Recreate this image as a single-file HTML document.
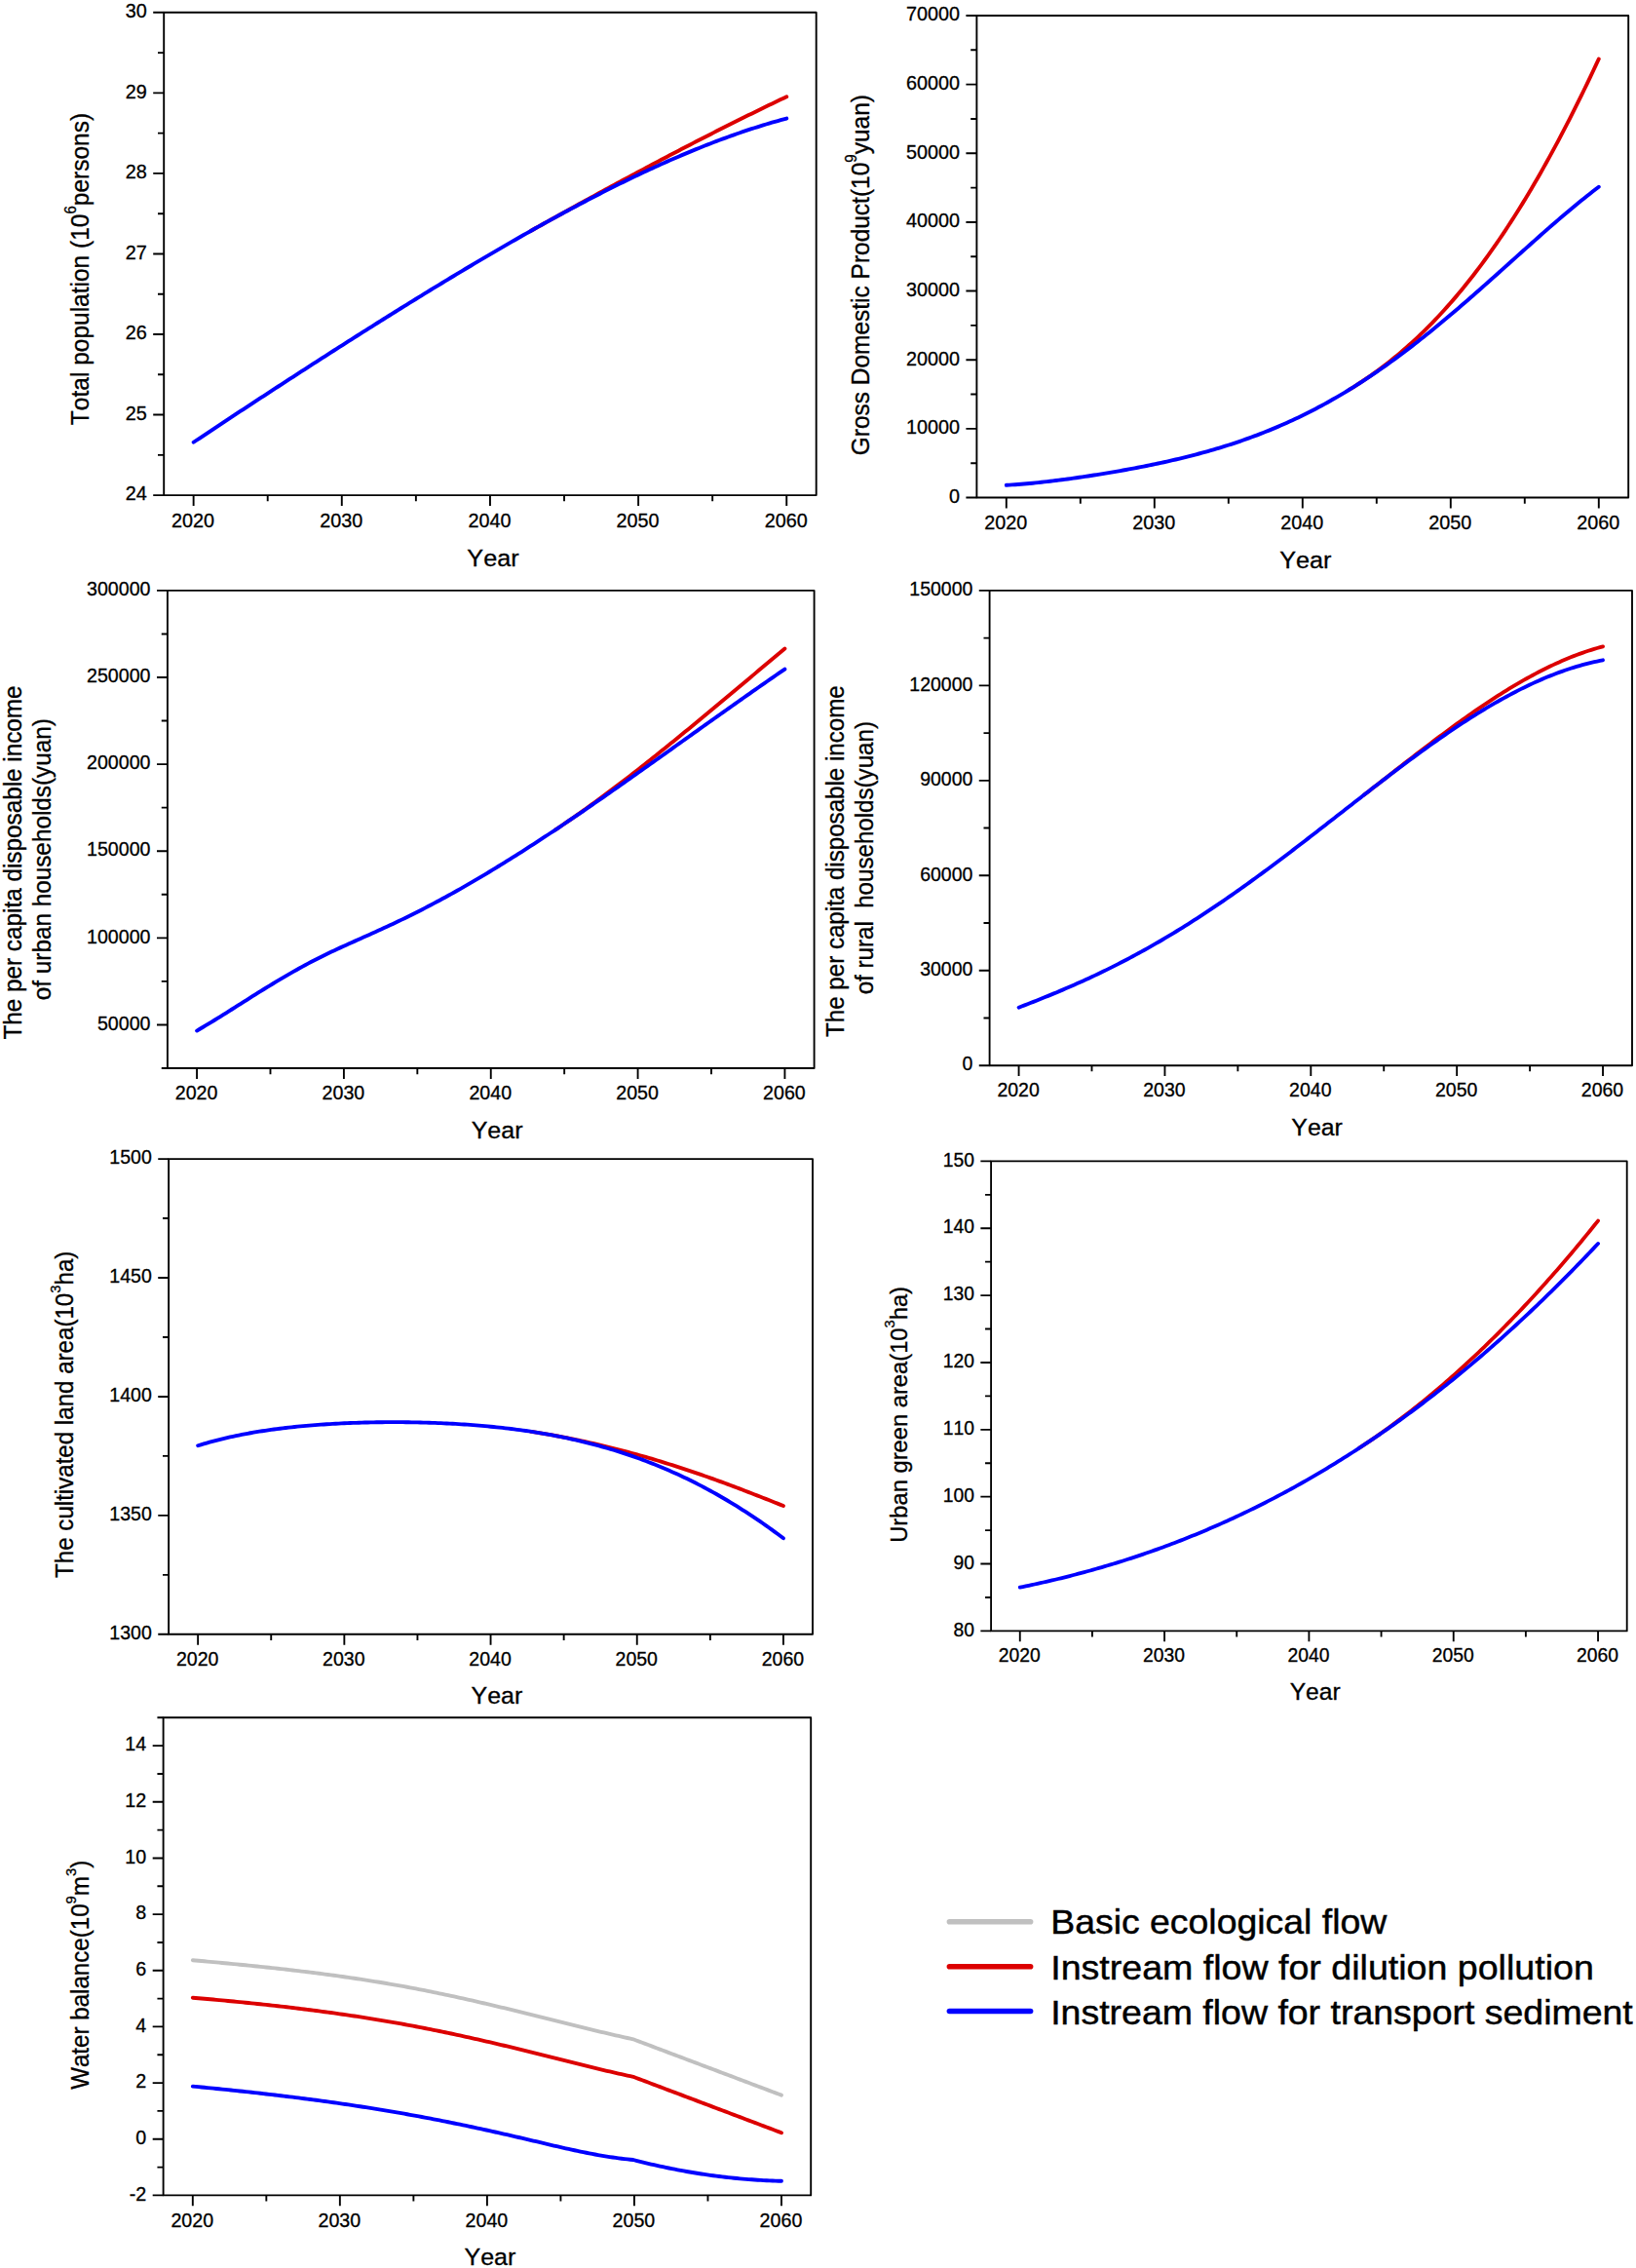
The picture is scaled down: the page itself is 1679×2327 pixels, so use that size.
<!DOCTYPE html>
<html lang="en">
<head>
<meta charset="utf-8">
<title>Scenario simulation results</title>
<style>
html,body{margin:0;padding:0;background:#fff;}
body{width:1679px;height:2327px;overflow:hidden;}
svg{display:block;}
svg text{font-family:"Liberation Sans", sans-serif;fill:#000;stroke:#000;font-kerning:none;white-space:pre;}
</style>
</head>
<body>
<svg width="1679" height="2327" viewBox="0 0 1679 2327">
<rect width="1679" height="2327" fill="#fff"/>
<path d="M545 236.79 L546.42 235.99 L549.42 234.31 L552.42 232.62 L555.42 230.94 L558.42 229.27 L561.42 227.59 L564.41 225.92 L567.41 224.25 L570.41 222.58 L573.41 220.92 L576.41 219.25 L579.4 217.59 L582.4 215.93 L585.4 214.27 L588.4 212.62 L591.4 210.97 L594.4 209.32 L597.39 207.67 L600.39 206.02 L603.39 204.38 L606.39 202.74 L609.39 201.1 L612.38 199.46 L615.38 197.83 L618.38 196.2 L621.38 194.57 L624.38 192.94 L627.38 191.32 L630.37 189.7 L633.37 188.08 L636.37 186.46 L639.37 184.84 L642.37 183.23 L645.36 181.62 L648.36 180.01 L651.36 178.41 L654.36 176.81 L657.36 175.21 L660.36 173.61 L663.35 172.01 L666.35 170.42 L669.35 168.83 L672.35 167.25 L675.35 165.66 L678.35 164.08 L681.34 162.5 L684.34 160.93 L687.34 159.35 L690.34 157.78 L693.34 156.22 L696.33 154.65 L699.33 153.09 L702.33 151.53 L705.33 149.98 L708.33 148.43 L711.33 146.88 L714.32 145.33 L717.32 143.79 L720.32 142.25 L723.32 140.72 L726.32 139.18 L729.31 137.65 L732.31 136.13 L735.31 134.61 L738.31 133.09 L741.31 131.57 L744.31 130.06 L747.3 128.55 L750.3 127.05 L753.3 125.55 L756.3 124.05 L759.3 122.56 L762.3 121.07 L765.29 119.59 L768.29 118.1 L771.29 116.63 L774.29 115.16 L777.29 113.69 L780.28 112.22 L783.28 110.76 L786.28 109.31 L789.28 107.86 L792.28 106.41 L795.28 104.97 L798.27 103.53 L801.27 102.1 L804.27 100.67 L807.27 99.25" fill="none" stroke="#dc0000" stroke-width="3.9" stroke-linecap="round" stroke-linejoin="round"/>
<path d="M198.63 453.75 L201.63 451.75 L204.63 449.76 L207.63 447.76 L210.62 445.77 L213.62 443.78 L216.62 441.79 L219.62 439.8 L222.62 437.81 L225.62 435.83 L228.61 433.85 L231.61 431.87 L234.61 429.89 L237.61 427.91 L240.61 425.94 L243.6 423.96 L246.6 421.99 L249.6 420.02 L252.6 418.05 L255.6 416.08 L258.6 414.12 L261.59 412.15 L264.59 410.19 L267.59 408.23 L270.59 406.27 L273.59 404.31 L276.59 402.36 L279.58 400.4 L282.58 398.45 L285.58 396.5 L288.58 394.55 L291.58 392.6 L294.57 390.65 L297.57 388.71 L300.57 386.77 L303.57 384.83 L306.57 382.89 L309.57 380.95 L312.56 379.02 L315.56 377.08 L318.56 375.15 L321.56 373.22 L324.56 371.29 L327.55 369.36 L330.55 367.44 L333.55 365.52 L336.55 363.6 L339.55 361.68 L342.55 359.76 L345.54 357.84 L348.54 355.93 L351.54 354.02 L354.54 352.11 L357.54 350.2 L360.54 348.3 L363.53 346.4 L366.53 344.5 L369.53 342.6 L372.53 340.7 L375.53 338.81 L378.52 336.91 L381.52 335.03 L384.52 333.14 L387.52 331.25 L390.52 329.37 L393.52 327.49 L396.51 325.61 L399.51 323.74 L402.51 321.87 L405.51 320 L408.51 318.13 L411.5 316.27 L414.5 314.4 L417.5 312.54 L420.5 310.69 L423.5 308.84 L426.5 306.98 L429.49 305.14 L432.49 303.29 L435.49 301.45 L438.49 299.61 L441.49 297.78 L444.48 295.95 L447.48 294.12 L450.48 292.29 L453.48 290.47 L456.48 288.65 L459.48 286.84 L462.47 285.03 L465.47 283.22 L468.47 281.41 L471.47 279.61 L474.47 277.82 L477.47 276.02 L480.46 274.23 L483.46 272.45 L486.46 270.67 L489.46 268.89 L492.46 267.12 L495.45 265.35 L498.45 263.58 L501.45 261.82 L504.45 260.07 L507.45 258.32 L510.45 256.57 L513.44 254.83 L516.44 253.09 L519.44 251.36 L522.44 249.63 L525.44 247.91 L528.43 246.19 L531.43 244.48 L534.43 242.77 L537.43 241.07 L540.43 239.37 L543.43 237.68 L546.42 235.99 L549.42 234.31 L552.42 232.63 L555.42 230.96 L558.42 229.3 L561.42 227.64 L564.41 225.99 L567.41 224.35 L570.41 222.71 L573.41 221.07 L576.41 219.45 L579.4 217.82 L582.4 216.21 L585.4 214.6 L588.4 213 L591.4 211.41 L594.4 209.82 L597.39 208.24 L600.39 206.67 L603.39 205.1 L606.39 203.54 L609.39 201.99 L612.38 200.45 L615.38 198.91 L618.38 197.38 L621.38 195.86 L624.38 194.35 L627.38 192.84 L630.37 191.34 L633.37 189.86 L636.37 188.37 L639.37 186.9 L642.37 185.44 L645.36 183.98 L648.36 182.54 L651.36 181.1 L654.36 179.67 L657.36 178.25 L660.36 176.84 L663.35 175.44 L666.35 174.05 L669.35 172.66 L672.35 171.29 L675.35 169.93 L678.35 168.58 L681.34 167.23 L684.34 165.9 L687.34 164.58 L690.34 163.26 L693.34 161.96 L696.33 160.67 L699.33 159.39 L702.33 158.12 L705.33 156.86 L708.33 155.61 L711.33 154.38 L714.32 153.15 L717.32 151.94 L720.32 150.74 L723.32 149.55 L726.32 148.37 L729.31 147.2 L732.31 146.05 L735.31 144.91 L738.31 143.78 L741.31 142.66 L744.31 141.55 L747.3 140.46 L750.3 139.38 L753.3 138.32 L756.3 137.27 L759.3 136.23 L762.3 135.2 L765.29 134.19 L768.29 133.19 L771.29 132.21 L774.29 131.24 L777.29 130.28 L780.28 129.34 L783.28 128.42 L786.28 127.5 L789.28 126.61 L792.28 125.73 L795.28 124.86 L798.27 124.01 L801.27 123.17 L804.27 122.35 L807.27 121.55" fill="none" stroke="#0000ff" stroke-width="3.9" stroke-linecap="round" stroke-linejoin="round"/>
<rect x="168.2" y="12.8" width="669.5" height="495.3" fill="none" stroke="#000" stroke-width="1.9" stroke-linejoin="round"/>
<path d="M198.63 508.1v11M350.79 508.1v11M502.95 508.1v11M655.11 508.1v11M807.27 508.1v11M274.71 508.1v6.2M426.87 508.1v6.2M579.03 508.1v6.2M731.19 508.1v6.2M168.2 508.1h-11M168.2 425.55h-11M168.2 343h-11M168.2 260.45h-11M168.2 177.9h-11M168.2 95.35h-11M168.2 12.8h-11M168.2 466.83h-6.2M168.2 384.28h-6.2M168.2 301.73h-6.2M168.2 219.18h-6.2M168.2 136.62h-6.2M168.2 54.08h-6.2" fill="none" stroke="#000" stroke-width="1.9"/>
<text x="198.13" y="540.61" font-size="19.81" text-anchor="middle" stroke-width="0.3">2020</text>
<text x="350.29" y="540.61" font-size="19.81" text-anchor="middle" stroke-width="0.3">2030</text>
<text x="502.45" y="540.61" font-size="19.81" text-anchor="middle" stroke-width="0.3">2040</text>
<text x="654.61" y="540.61" font-size="19.81" text-anchor="middle" stroke-width="0.3">2050</text>
<text x="806.77" y="540.61" font-size="19.81" text-anchor="middle" stroke-width="0.3">2060</text>
<text x="150.69" y="513.4" font-size="19.81" text-anchor="end" stroke-width="0.3">24</text>
<text x="150.69" y="430.85" font-size="19.81" text-anchor="end" stroke-width="0.3">25</text>
<text x="150.69" y="348.3" font-size="19.81" text-anchor="end" stroke-width="0.3">26</text>
<text x="150.69" y="265.75" font-size="19.81" text-anchor="end" stroke-width="0.3">27</text>
<text x="150.69" y="183.2" font-size="19.81" text-anchor="end" stroke-width="0.3">28</text>
<text x="150.69" y="100.65" font-size="19.81" text-anchor="end" stroke-width="0.3">29</text>
<text x="150.69" y="18.1" font-size="19.81" text-anchor="end" stroke-width="0.3">30</text>
<text transform="translate(505.95 580.63) scale(1.03 1)" font-size="24.51" text-anchor="middle" stroke-width="0.3">Year</text>
<text transform="translate(91 276) scale(1.04 1) rotate(-90)" font-size="24.51" text-anchor="middle" stroke-width="0.3" xml:space="preserve">Total population (10<tspan font-size="15.07" dy="-12.71">6</tspan><tspan dy="12.71">persons)</tspan></text>
<path d="M1385 399.65 L1386.22 398.9 L1389.21 397.03 L1392.21 395.13 L1395.2 393.19 L1398.2 391.22 L1401.19 389.2 L1404.19 387.15 L1407.18 385.07 L1410.18 382.94 L1413.17 380.77 L1416.17 378.56 L1419.16 376.31 L1422.16 374.02 L1425.15 371.68 L1428.15 369.3 L1431.14 366.88 L1434.14 364.41 L1437.13 361.89 L1440.13 359.33 L1443.13 356.72 L1446.12 354.07 L1449.12 351.36 L1452.11 348.61 L1455.11 345.81 L1458.1 342.95 L1461.1 340.05 L1464.09 337.09 L1467.09 334.08 L1470.08 331.02 L1473.08 327.91 L1476.07 324.75 L1479.07 321.53 L1482.06 318.25 L1485.06 314.92 L1488.05 311.54 L1491.05 308.1 L1494.04 304.61 L1497.04 301.06 L1500.03 297.45 L1503.03 293.78 L1506.02 290.06 L1509.02 286.28 L1512.01 282.45 L1515.01 278.55 L1518 274.6 L1521 270.58 L1523.99 266.51 L1526.99 262.38 L1529.98 258.19 L1532.98 253.94 L1535.97 249.63 L1538.97 245.26 L1541.96 240.83 L1544.96 236.34 L1547.95 231.78 L1550.95 227.17 L1553.94 222.5 L1556.94 217.76 L1559.93 212.97 L1562.93 208.11 L1565.92 203.2 L1568.92 198.22 L1571.91 193.18 L1574.91 188.08 L1577.9 182.91 L1580.9 177.69 L1583.89 172.4 L1586.89 167.06 L1589.88 161.65 L1592.88 156.18 L1595.87 150.65 L1598.87 145.06 L1601.86 139.41 L1604.86 133.7 L1607.85 127.93 L1610.85 122.09 L1613.84 116.2 L1616.84 110.24 L1619.83 104.23 L1622.83 98.15 L1625.82 92.02 L1628.82 85.82 L1631.81 79.57 L1634.81 73.26 L1637.8 66.88 L1640.8 60.45" fill="none" stroke="#dc0000" stroke-width="3.9" stroke-linecap="round" stroke-linejoin="round"/>
<path d="M1032.8 497.78 L1035.8 497.61 L1038.79 497.42 L1041.79 497.21 L1044.78 496.99 L1047.78 496.76 L1050.77 496.51 L1053.77 496.25 L1056.76 495.98 L1059.76 495.69 L1062.75 495.39 L1065.75 495.08 L1068.74 494.76 L1071.74 494.43 L1074.73 494.09 L1077.73 493.74 L1080.72 493.39 L1083.72 493.02 L1086.71 492.64 L1089.71 492.26 L1092.7 491.87 L1095.7 491.47 L1098.69 491.06 L1101.69 490.64 L1104.68 490.22 L1107.68 489.79 L1110.67 489.36 L1113.67 488.91 L1116.66 488.46 L1119.66 488.01 L1122.65 487.54 L1125.65 487.07 L1128.64 486.59 L1131.64 486.11 L1134.63 485.62 L1137.63 485.12 L1140.62 484.62 L1143.62 484.11 L1146.61 483.59 L1149.61 483.06 L1152.6 482.53 L1155.6 481.99 L1158.59 481.44 L1161.59 480.89 L1164.58 480.32 L1167.58 479.75 L1170.57 479.17 L1173.57 478.58 L1176.56 477.99 L1179.56 477.38 L1182.55 476.77 L1185.55 476.14 L1188.54 475.51 L1191.54 474.87 L1194.53 474.22 L1197.53 473.55 L1200.52 472.88 L1203.52 472.19 L1206.51 471.5 L1209.51 470.79 L1212.5 470.07 L1215.5 469.34 L1218.49 468.6 L1221.49 467.84 L1224.48 467.07 L1227.48 466.29 L1230.47 465.5 L1233.47 464.69 L1236.47 463.86 L1239.46 463.03 L1242.46 462.18 L1245.45 461.31 L1248.45 460.43 L1251.44 459.53 L1254.44 458.62 L1257.43 457.69 L1260.43 456.74 L1263.42 455.78 L1266.42 454.8 L1269.41 453.8 L1272.41 452.79 L1275.4 451.75 L1278.4 450.7 L1281.39 449.63 L1284.39 448.54 L1287.38 447.44 L1290.38 446.31 L1293.37 445.17 L1296.37 444 L1299.36 442.81 L1302.36 441.61 L1305.35 440.38 L1308.35 439.14 L1311.34 437.87 L1314.34 436.58 L1317.33 435.27 L1320.33 433.94 L1323.32 432.58 L1326.32 431.21 L1329.31 429.81 L1332.31 428.39 L1335.3 426.95 L1338.3 425.48 L1341.29 423.99 L1344.29 422.48 L1347.28 420.95 L1350.28 419.4 L1353.27 417.82 L1356.27 416.21 L1359.26 414.59 L1362.26 412.94 L1365.25 411.27 L1368.25 409.57 L1371.24 407.85 L1374.24 406.11 L1377.23 404.34 L1380.23 402.55 L1383.22 400.74 L1386.22 398.9 L1389.21 397.04 L1392.21 395.16 L1395.2 393.25 L1398.2 391.32 L1401.19 389.37 L1404.19 387.39 L1407.18 385.4 L1410.18 383.37 L1413.17 381.33 L1416.17 379.26 L1419.16 377.17 L1422.16 375.06 L1425.15 372.93 L1428.15 370.78 L1431.14 368.6 L1434.14 366.4 L1437.13 364.18 L1440.13 361.94 L1443.13 359.68 L1446.12 357.4 L1449.12 355.11 L1452.11 352.79 L1455.11 350.45 L1458.1 348.09 L1461.1 345.72 L1464.09 343.32 L1467.09 340.91 L1470.08 338.48 L1473.08 336.04 L1476.07 333.57 L1479.07 331.1 L1482.06 328.6 L1485.06 326.1 L1488.05 323.57 L1491.05 321.04 L1494.04 318.49 L1497.04 315.92 L1500.03 313.35 L1503.03 310.76 L1506.02 308.16 L1509.02 305.55 L1512.01 302.93 L1515.01 300.3 L1518 297.67 L1521 295.02 L1523.99 292.37 L1526.99 289.71 L1529.98 287.04 L1532.98 284.37 L1535.97 281.7 L1538.97 279.02 L1541.96 276.33 L1544.96 273.65 L1547.95 270.96 L1550.95 268.27 L1553.94 265.59 L1556.94 262.9 L1559.93 260.21 L1562.93 257.53 L1565.92 254.85 L1568.92 252.18 L1571.91 249.51 L1574.91 246.85 L1577.9 244.19 L1580.9 241.54 L1583.89 238.9 L1586.89 236.27 L1589.88 233.65 L1592.88 231.04 L1595.87 228.45 L1598.87 225.86 L1601.86 223.3 L1604.86 220.75 L1607.85 218.21 L1610.85 215.69 L1613.84 213.2 L1616.84 210.72 L1619.83 208.26 L1622.83 205.82 L1625.82 203.41 L1628.82 201.02 L1631.81 198.66 L1634.81 196.32 L1637.8 194.01 L1640.8 191.73" fill="none" stroke="#0000ff" stroke-width="3.9" stroke-linecap="round" stroke-linejoin="round"/>
<rect x="1002.4" y="16" width="668.8" height="494.5" fill="none" stroke="#000" stroke-width="1.9" stroke-linejoin="round"/>
<path d="M1032.8 510.5v10.99M1184.8 510.5v10.99M1336.8 510.5v10.99M1488.8 510.5v10.99M1640.8 510.5v10.99M1108.8 510.5v6.2M1260.8 510.5v6.2M1412.8 510.5v6.2M1564.8 510.5v6.2M1002.4 510.5h-10.99M1002.4 439.86h-10.99M1002.4 369.21h-10.99M1002.4 298.57h-10.99M1002.4 227.93h-10.99M1002.4 157.29h-10.99M1002.4 86.64h-10.99M1002.4 16h-10.99M1002.4 475.18h-6.2M1002.4 404.54h-6.2M1002.4 333.89h-6.2M1002.4 263.25h-6.2M1002.4 192.61h-6.2M1002.4 121.96h-6.2M1002.4 51.32h-6.2" fill="none" stroke="#000" stroke-width="1.9"/>
<text x="1032.3" y="542.98" font-size="19.79" text-anchor="middle" stroke-width="0.3">2020</text>
<text x="1184.3" y="542.98" font-size="19.79" text-anchor="middle" stroke-width="0.3">2030</text>
<text x="1336.3" y="542.98" font-size="19.79" text-anchor="middle" stroke-width="0.3">2040</text>
<text x="1488.3" y="542.98" font-size="19.79" text-anchor="middle" stroke-width="0.3">2050</text>
<text x="1640.3" y="542.98" font-size="19.79" text-anchor="middle" stroke-width="0.3">2060</text>
<text x="984.91" y="515.8" font-size="19.79" text-anchor="end" stroke-width="0.3">0</text>
<text x="984.91" y="445.15" font-size="19.79" text-anchor="end" stroke-width="0.3">10000</text>
<text x="984.91" y="374.51" font-size="19.79" text-anchor="end" stroke-width="0.3">20000</text>
<text x="984.91" y="303.87" font-size="19.79" text-anchor="end" stroke-width="0.3">30000</text>
<text x="984.91" y="233.23" font-size="19.79" text-anchor="end" stroke-width="0.3">40000</text>
<text x="984.91" y="162.58" font-size="19.79" text-anchor="end" stroke-width="0.3">50000</text>
<text x="984.91" y="91.94" font-size="19.79" text-anchor="end" stroke-width="0.3">60000</text>
<text x="984.91" y="21.3" font-size="19.79" text-anchor="end" stroke-width="0.3">70000</text>
<text transform="translate(1339.8 582.96) scale(1.03 1)" font-size="24.49" text-anchor="middle" stroke-width="0.3">Year</text>
<text transform="translate(892 282.2) scale(1.04 1) rotate(-90)" font-size="24.49" text-anchor="middle" stroke-width="0.3" xml:space="preserve">Gross Domestic Product(10<tspan font-size="15.06" dy="-12.69">9</tspan><tspan dy="12.69">yuan)</tspan></text>
<path d="M570 851.38 L571.29 850.53 L574.29 848.51 L577.29 846.49 L580.3 844.44 L583.3 842.39 L586.3 840.32 L589.3 838.23 L592.3 836.13 L595.31 834.01 L598.31 831.89 L601.31 829.74 L604.31 827.59 L607.31 825.42 L610.31 823.24 L613.32 821.05 L616.32 818.84 L619.32 816.62 L622.32 814.39 L625.32 812.15 L628.33 809.9 L631.33 807.64 L634.33 805.36 L637.33 803.08 L640.33 800.78 L643.33 798.48 L646.34 796.16 L649.34 793.83 L652.34 791.5 L655.34 789.16 L658.34 786.8 L661.34 784.44 L664.35 782.07 L667.35 779.69 L670.35 777.31 L673.35 774.92 L676.35 772.51 L679.36 770.11 L682.36 767.69 L685.36 765.27 L688.36 762.84 L691.36 760.4 L694.36 757.96 L697.37 755.52 L700.37 753.06 L703.37 750.6 L706.37 748.14 L709.37 745.67 L712.38 743.2 L715.38 740.72 L718.38 738.24 L721.38 735.76 L724.38 733.27 L727.38 730.78 L730.39 728.28 L733.39 725.78 L736.39 723.28 L739.39 720.78 L742.39 718.27 L745.4 715.76 L748.4 713.25 L751.4 710.74 L754.4 708.23 L757.4 705.72 L760.4 703.2 L763.41 700.69 L766.41 698.17 L769.41 695.66 L772.41 693.14 L775.41 690.62 L778.42 688.11 L781.42 685.6 L784.42 683.08 L787.42 680.57 L790.42 678.06 L793.42 675.56 L796.43 673.05 L799.43 670.55 L802.43 668.05 L805.43 665.55" fill="none" stroke="#dc0000" stroke-width="3.87" stroke-linecap="round" stroke-linejoin="round"/>
<path d="M202.07 1057.56 L205.07 1055.79 L208.07 1054.01 L211.07 1052.21 L214.08 1050.4 L217.08 1048.57 L220.08 1046.73 L223.08 1044.88 L226.08 1043.02 L229.08 1041.15 L232.09 1039.27 L235.09 1037.39 L238.09 1035.5 L241.09 1033.6 L244.09 1031.71 L247.1 1029.81 L250.1 1027.91 L253.1 1026.01 L256.1 1024.12 L259.1 1022.23 L262.1 1020.35 L265.11 1018.47 L268.11 1016.6 L271.11 1014.74 L274.11 1012.88 L277.11 1011.04 L280.12 1009.22 L283.12 1007.41 L286.12 1005.61 L289.12 1003.83 L292.12 1002.07 L295.12 1000.32 L298.13 998.6 L301.13 996.89 L304.13 995.2 L307.13 993.53 L310.13 991.88 L313.14 990.26 L316.14 988.65 L319.14 987.06 L322.14 985.5 L325.14 983.96 L328.14 982.44 L331.15 980.94 L334.15 979.47 L337.15 978.01 L340.15 976.58 L343.15 975.17 L346.16 973.77 L349.16 972.38 L352.16 971.01 L355.16 969.65 L358.16 968.3 L361.16 966.95 L364.17 965.61 L367.17 964.27 L370.17 962.94 L373.17 961.6 L376.17 960.26 L379.17 958.91 L382.18 957.56 L385.18 956.2 L388.18 954.84 L391.18 953.47 L394.18 952.09 L397.19 950.71 L400.19 949.31 L403.19 947.9 L406.19 946.49 L409.19 945.06 L412.19 943.62 L415.2 942.17 L418.2 940.71 L421.2 939.23 L424.2 937.74 L427.2 936.23 L430.21 934.71 L433.21 933.18 L436.21 931.63 L439.21 930.07 L442.21 928.5 L445.21 926.91 L448.22 925.31 L451.22 923.7 L454.22 922.07 L457.22 920.44 L460.22 918.79 L463.23 917.12 L466.23 915.45 L469.23 913.77 L472.23 912.07 L475.23 910.36 L478.23 908.64 L481.24 906.91 L484.24 905.17 L487.24 903.42 L490.24 901.65 L493.24 899.88 L496.25 898.09 L499.25 896.3 L502.25 894.49 L505.25 892.68 L508.25 890.85 L511.25 889.02 L514.26 887.17 L517.26 885.32 L520.26 883.46 L523.26 881.59 L526.26 879.71 L529.27 877.82 L532.27 875.92 L535.27 874.01 L538.27 872.1 L541.27 870.17 L544.27 868.24 L547.28 866.3 L550.28 864.36 L553.28 862.4 L556.28 860.44 L559.28 858.47 L562.29 856.5 L565.29 854.51 L568.29 852.52 L571.29 850.53 L574.29 848.52 L577.29 846.51 L580.3 844.5 L583.3 842.48 L586.3 840.45 L589.3 838.42 L592.3 836.38 L595.31 834.33 L598.31 832.28 L601.31 830.23 L604.31 828.17 L607.31 826.1 L610.31 824.03 L613.32 821.96 L616.32 819.88 L619.32 817.8 L622.32 815.71 L625.32 813.62 L628.33 811.53 L631.33 809.43 L634.33 807.33 L637.33 805.22 L640.33 803.11 L643.33 801 L646.34 798.89 L649.34 796.77 L652.34 794.65 L655.34 792.53 L658.34 790.41 L661.34 788.28 L664.35 786.15 L667.35 784.02 L670.35 781.89 L673.35 779.76 L676.35 777.62 L679.36 775.49 L682.36 773.35 L685.36 771.21 L688.36 769.07 L691.36 766.93 L694.36 764.79 L697.37 762.65 L700.37 760.51 L703.37 758.37 L706.37 756.23 L709.37 754.09 L712.38 751.95 L715.38 749.81 L718.38 747.67 L721.38 745.53 L724.38 743.39 L727.38 741.25 L730.39 739.12 L733.39 736.98 L736.39 734.85 L739.39 732.72 L742.39 730.59 L745.4 728.46 L748.4 726.34 L751.4 724.22 L754.4 722.1 L757.4 719.98 L760.4 717.86 L763.41 715.75 L766.41 713.64 L769.41 711.54 L772.41 709.43 L775.41 707.34 L778.42 705.24 L781.42 703.15 L784.42 701.06 L787.42 698.98 L790.42 696.9 L793.42 694.82 L796.43 692.75 L799.43 690.68 L802.43 688.62 L805.43 686.57" fill="none" stroke="#0000ff" stroke-width="3.87" stroke-linecap="round" stroke-linejoin="round"/>
<rect x="171.9" y="605.9" width="663.7" height="490.1" fill="none" stroke="#000" stroke-width="1.88" stroke-linejoin="round"/>
<path d="M202.07 1096v10.91M352.91 1096v10.91M503.75 1096v10.91M654.59 1096v10.91M805.43 1096v10.91M277.49 1096v6.15M428.33 1096v6.15M579.17 1096v6.15M730.01 1096v6.15M171.9 1051.45h-10.91M171.9 962.34h-10.91M171.9 873.23h-10.91M171.9 784.12h-10.91M171.9 695.01h-10.91M171.9 605.9h-10.91M171.9 1096h-6.15M171.9 1006.89h-6.15M171.9 917.78h-6.15M171.9 828.67h-6.15M171.9 739.56h-6.15M171.9 650.45h-6.15" fill="none" stroke="#000" stroke-width="1.88"/>
<text x="201.57" y="1128.23" font-size="19.64" text-anchor="middle" stroke-width="0.3">2020</text>
<text x="352.41" y="1128.23" font-size="19.64" text-anchor="middle" stroke-width="0.3">2030</text>
<text x="503.25" y="1128.23" font-size="19.64" text-anchor="middle" stroke-width="0.3">2040</text>
<text x="654.1" y="1128.23" font-size="19.64" text-anchor="middle" stroke-width="0.3">2050</text>
<text x="804.94" y="1128.23" font-size="19.64" text-anchor="middle" stroke-width="0.3">2060</text>
<text x="154.54" y="1056.7" font-size="19.64" text-anchor="end" stroke-width="0.3">50000</text>
<text x="154.54" y="967.59" font-size="19.64" text-anchor="end" stroke-width="0.3">100000</text>
<text x="154.54" y="878.48" font-size="19.64" text-anchor="end" stroke-width="0.3">150000</text>
<text x="154.54" y="789.37" font-size="19.64" text-anchor="end" stroke-width="0.3">200000</text>
<text x="154.54" y="700.27" font-size="19.64" text-anchor="end" stroke-width="0.3">250000</text>
<text x="154.54" y="611.16" font-size="19.64" text-anchor="end" stroke-width="0.3">300000</text>
<text transform="translate(510.1 1167.9) scale(1.03 1)" font-size="24.3" text-anchor="middle" stroke-width="0.3">Year</text>
<text transform="translate(21.6 885) scale(1.04 1) rotate(-90)" font-size="24.3" text-anchor="middle" stroke-width="0.3" xml:space="preserve">The per capita disposable income</text>
<text transform="translate(52.4 881.7) scale(1.04 1) rotate(-90)" font-size="24.3" text-anchor="middle" stroke-width="0.3" xml:space="preserve">of urban households(yuan)</text>
<path d="M1400 815.49 L1402.25 813.74 L1405.25 811.41 L1408.24 809.08 L1411.24 806.74 L1414.24 804.41 L1417.23 802.07 L1420.23 799.73 L1423.23 797.39 L1426.23 795.05 L1429.22 792.72 L1432.22 790.38 L1435.22 788.05 L1438.22 785.71 L1441.21 783.39 L1444.21 781.06 L1447.21 778.74 L1450.2 776.43 L1453.2 774.12 L1456.2 771.81 L1459.2 769.52 L1462.19 767.23 L1465.19 764.94 L1468.19 762.67 L1471.19 760.4 L1474.18 758.15 L1477.18 755.9 L1480.18 753.67 L1483.17 751.44 L1486.17 749.23 L1489.17 747.03 L1492.17 744.84 L1495.16 742.67 L1498.16 740.51 L1501.16 738.36 L1504.16 736.23 L1507.15 734.12 L1510.15 732.02 L1513.15 729.94 L1516.14 727.87 L1519.14 725.83 L1522.14 723.8 L1525.14 721.79 L1528.13 719.8 L1531.13 717.83 L1534.13 715.88 L1537.13 713.96 L1540.12 712.05 L1543.12 710.17 L1546.12 708.31 L1549.11 706.48 L1552.11 704.66 L1555.11 702.88 L1558.11 701.12 L1561.1 699.38 L1564.1 697.67 L1567.1 695.99 L1570.1 694.33 L1573.09 692.71 L1576.09 691.11 L1579.09 689.54 L1582.08 688 L1585.08 686.49 L1588.08 685.01 L1591.08 683.56 L1594.07 682.14 L1597.07 680.76 L1600.07 679.4 L1603.07 678.08 L1606.06 676.8 L1609.06 675.55 L1612.06 674.33 L1615.05 673.15 L1618.05 672 L1621.05 670.89 L1624.05 669.82 L1627.04 668.78 L1630.04 667.79 L1633.04 666.83 L1636.04 665.9 L1639.03 665.02 L1642.03 664.18 L1645.03 663.37" fill="none" stroke="#dc0000" stroke-width="3.84" stroke-linecap="round" stroke-linejoin="round"/>
<path d="M1045.57 1033.68 L1048.57 1032.53 L1051.57 1031.37 L1054.56 1030.21 L1057.56 1029.04 L1060.56 1027.86 L1063.56 1026.68 L1066.55 1025.49 L1069.55 1024.29 L1072.55 1023.08 L1075.55 1021.86 L1078.54 1020.63 L1081.54 1019.4 L1084.54 1018.15 L1087.53 1016.89 L1090.53 1015.62 L1093.53 1014.34 L1096.53 1013.05 L1099.52 1011.75 L1102.52 1010.43 L1105.52 1009.1 L1108.52 1007.76 L1111.51 1006.41 L1114.51 1005.04 L1117.51 1003.67 L1120.5 1002.27 L1123.5 1000.87 L1126.5 999.45 L1129.5 998.01 L1132.49 996.57 L1135.49 995.1 L1138.49 993.63 L1141.49 992.14 L1144.48 990.63 L1147.48 989.11 L1150.48 987.57 L1153.47 986.02 L1156.47 984.46 L1159.47 982.88 L1162.47 981.28 L1165.46 979.67 L1168.46 978.04 L1171.46 976.4 L1174.46 974.75 L1177.45 973.07 L1180.45 971.38 L1183.45 969.68 L1186.44 967.96 L1189.44 966.23 L1192.44 964.48 L1195.44 962.71 L1198.43 960.93 L1201.43 959.14 L1204.43 957.33 L1207.43 955.5 L1210.42 953.66 L1213.42 951.81 L1216.42 949.94 L1219.41 948.05 L1222.41 946.15 L1225.41 944.24 L1228.41 942.31 L1231.4 940.37 L1234.4 938.41 L1237.4 936.44 L1240.4 934.46 L1243.39 932.46 L1246.39 930.45 L1249.39 928.42 L1252.38 926.39 L1255.38 924.34 L1258.38 922.27 L1261.38 920.2 L1264.37 918.11 L1267.37 916.01 L1270.37 913.9 L1273.37 911.78 L1276.36 909.64 L1279.36 907.5 L1282.36 905.34 L1285.35 903.17 L1288.35 901 L1291.35 898.81 L1294.35 896.61 L1297.34 894.4 L1300.34 892.19 L1303.34 889.96 L1306.34 887.73 L1309.33 885.49 L1312.33 883.24 L1315.33 880.98 L1318.32 878.72 L1321.32 876.45 L1324.32 874.17 L1327.32 871.88 L1330.31 869.59 L1333.31 867.29 L1336.31 864.99 L1339.31 862.68 L1342.3 860.37 L1345.3 858.06 L1348.3 855.74 L1351.29 853.41 L1354.29 851.09 L1357.29 848.76 L1360.29 846.43 L1363.28 844.09 L1366.28 841.76 L1369.28 839.42 L1372.28 837.08 L1375.27 834.74 L1378.27 832.4 L1381.27 830.07 L1384.26 827.73 L1387.26 825.39 L1390.26 823.06 L1393.26 820.72 L1396.25 818.39 L1399.25 816.07 L1402.25 813.74 L1405.25 811.42 L1408.24 809.1 L1411.24 806.79 L1414.24 804.49 L1417.23 802.18 L1420.23 799.89 L1423.23 797.6 L1426.23 795.32 L1429.22 793.04 L1432.22 790.77 L1435.22 788.51 L1438.22 786.26 L1441.21 784.02 L1444.21 781.78 L1447.21 779.56 L1450.2 777.35 L1453.2 775.14 L1456.2 772.95 L1459.2 770.77 L1462.19 768.61 L1465.19 766.45 L1468.19 764.31 L1471.19 762.18 L1474.18 760.07 L1477.18 757.97 L1480.18 755.88 L1483.17 753.81 L1486.17 751.76 L1489.17 749.72 L1492.17 747.7 L1495.16 745.7 L1498.16 743.71 L1501.16 741.74 L1504.16 739.79 L1507.15 737.86 L1510.15 735.95 L1513.15 734.06 L1516.14 732.19 L1519.14 730.34 L1522.14 728.51 L1525.14 726.71 L1528.13 724.92 L1531.13 723.16 L1534.13 721.42 L1537.13 719.71 L1540.12 718.02 L1543.12 716.35 L1546.12 714.71 L1549.11 713.09 L1552.11 711.5 L1555.11 709.94 L1558.11 708.4 L1561.1 706.89 L1564.1 705.41 L1567.1 703.96 L1570.1 702.53 L1573.09 701.13 L1576.09 699.76 L1579.09 698.43 L1582.08 697.12 L1585.08 695.84 L1588.08 694.59 L1591.08 693.38 L1594.07 692.19 L1597.07 691.04 L1600.07 689.92 L1603.07 688.84 L1606.06 687.79 L1609.06 686.77 L1612.06 685.78 L1615.05 684.83 L1618.05 683.92 L1621.05 683.04 L1624.05 682.19 L1627.04 681.38 L1630.04 680.61 L1633.04 679.88 L1636.04 679.18 L1639.03 678.52 L1642.03 677.89 L1645.03 677.31" fill="none" stroke="#0000ff" stroke-width="3.84" stroke-linecap="round" stroke-linejoin="round"/>
<rect x="1015.6" y="605.9" width="659.4" height="487.3" fill="none" stroke="#000" stroke-width="1.87" stroke-linejoin="round"/>
<path d="M1045.57 1093.2v10.84M1195.44 1093.2v10.84M1345.3 1093.2v10.84M1495.16 1093.2v10.84M1645.03 1093.2v10.84M1120.5 1093.2v6.11M1270.37 1093.2v6.11M1420.23 1093.2v6.11M1570.1 1093.2v6.11M1015.6 1093.2h-10.84M1015.6 995.74h-10.84M1015.6 898.28h-10.84M1015.6 800.82h-10.84M1015.6 703.36h-10.84M1015.6 605.9h-10.84M1015.6 1044.47h-6.11M1015.6 947.01h-6.11M1015.6 849.55h-6.11M1015.6 752.09h-6.11M1015.6 654.63h-6.11" fill="none" stroke="#000" stroke-width="1.87"/>
<text x="1045.08" y="1125.22" font-size="19.51" text-anchor="middle" stroke-width="0.3">2020</text>
<text x="1194.94" y="1125.22" font-size="19.51" text-anchor="middle" stroke-width="0.3">2030</text>
<text x="1344.81" y="1125.22" font-size="19.51" text-anchor="middle" stroke-width="0.3">2040</text>
<text x="1494.67" y="1125.22" font-size="19.51" text-anchor="middle" stroke-width="0.3">2050</text>
<text x="1644.53" y="1125.22" font-size="19.51" text-anchor="middle" stroke-width="0.3">2060</text>
<text x="998.36" y="1098.42" font-size="19.51" text-anchor="end" stroke-width="0.3">0</text>
<text x="998.36" y="1000.96" font-size="19.51" text-anchor="end" stroke-width="0.3">30000</text>
<text x="998.36" y="903.5" font-size="19.51" text-anchor="end" stroke-width="0.3">60000</text>
<text x="998.36" y="806.04" font-size="19.51" text-anchor="end" stroke-width="0.3">90000</text>
<text x="998.36" y="708.58" font-size="19.51" text-anchor="end" stroke-width="0.3">120000</text>
<text x="998.36" y="611.12" font-size="19.51" text-anchor="end" stroke-width="0.3">150000</text>
<text transform="translate(1351.61 1164.64) scale(1.03 1)" font-size="24.14" text-anchor="middle" stroke-width="0.3">Year</text>
<text transform="translate(865.9 883.6) scale(1.04 1) rotate(-90)" font-size="24.14" text-anchor="middle" stroke-width="0.3" xml:space="preserve">The per capita disposable income</text>
<text transform="translate(896.1 880.2) scale(1.04 1) rotate(-90)" font-size="24.14" text-anchor="middle" stroke-width="0.3" xml:space="preserve">of rural  households(yuan)</text>
<path d="M545 1468.83 L545.61 1468.93 L548.61 1469.39 L551.62 1469.87 L554.62 1470.35 L557.62 1470.85 L560.63 1471.36 L563.63 1471.88 L566.64 1472.41 L569.64 1472.95 L572.64 1473.5 L575.65 1474.07 L578.65 1474.64 L581.66 1475.22 L584.66 1475.82 L587.66 1476.42 L590.67 1477.04 L593.67 1477.67 L596.68 1478.31 L599.68 1478.95 L602.68 1479.61 L605.69 1480.28 L608.69 1480.96 L611.7 1481.65 L614.7 1482.35 L617.71 1483.06 L620.71 1483.79 L623.71 1484.52 L626.72 1485.26 L629.72 1486.01 L632.73 1486.78 L635.73 1487.55 L638.73 1488.33 L641.74 1489.13 L644.74 1489.93 L647.75 1490.74 L650.75 1491.57 L653.75 1492.4 L656.76 1493.25 L659.76 1494.1 L662.77 1494.96 L665.77 1495.84 L668.78 1496.72 L671.78 1497.62 L674.78 1498.52 L677.79 1499.43 L680.79 1500.35 L683.8 1501.29 L686.8 1502.23 L689.8 1503.18 L692.81 1504.14 L695.81 1505.11 L698.82 1506.09 L701.82 1507.07 L704.82 1508.07 L707.83 1509.07 L710.83 1510.09 L713.84 1511.11 L716.84 1512.14 L719.84 1513.18 L722.85 1514.23 L725.85 1515.28 L728.86 1516.35 L731.86 1517.42 L734.87 1518.5 L737.87 1519.59 L740.87 1520.68 L743.88 1521.78 L746.88 1522.89 L749.89 1524.01 L752.89 1525.13 L755.89 1526.26 L758.9 1527.4 L761.9 1528.54 L764.91 1529.69 L767.91 1530.84 L770.91 1532 L773.92 1533.17 L776.92 1534.34 L779.93 1535.51 L782.93 1536.69 L785.93 1537.88 L788.94 1539.07 L791.94 1540.26 L794.95 1541.46 L797.95 1542.66 L800.96 1543.86 L803.96 1545.07" fill="none" stroke="#dc0000" stroke-width="3.85" stroke-linecap="round" stroke-linejoin="round"/>
<path d="M203.14 1483.24 L206.14 1482.32 L209.15 1481.41 L212.15 1480.54 L215.16 1479.69 L218.16 1478.87 L221.17 1478.07 L224.17 1477.3 L227.17 1476.55 L230.18 1475.83 L233.18 1475.12 L236.19 1474.44 L239.19 1473.78 L242.19 1473.14 L245.2 1472.52 L248.2 1471.92 L251.21 1471.34 L254.21 1470.78 L257.21 1470.24 L260.22 1469.71 L263.22 1469.2 L266.23 1468.71 L269.23 1468.24 L272.24 1467.78 L275.24 1467.34 L278.24 1466.91 L281.25 1466.5 L284.25 1466.1 L287.26 1465.72 L290.26 1465.35 L293.26 1464.99 L296.27 1464.65 L299.27 1464.32 L302.28 1464 L305.28 1463.69 L308.28 1463.4 L311.29 1463.12 L314.29 1462.85 L317.3 1462.59 L320.3 1462.34 L323.3 1462.11 L326.31 1461.88 L329.31 1461.66 L332.32 1461.46 L335.32 1461.26 L338.32 1461.07 L341.33 1460.9 L344.33 1460.73 L347.34 1460.57 L350.34 1460.42 L353.35 1460.28 L356.35 1460.15 L359.35 1460.03 L362.36 1459.91 L365.36 1459.81 L368.37 1459.71 L371.37 1459.62 L374.37 1459.54 L377.38 1459.46 L380.38 1459.4 L383.39 1459.34 L386.39 1459.29 L389.39 1459.25 L392.4 1459.22 L395.4 1459.19 L398.41 1459.17 L401.41 1459.16 L404.41 1459.16 L407.42 1459.16 L410.42 1459.18 L413.43 1459.2 L416.43 1459.22 L419.44 1459.26 L422.44 1459.3 L425.44 1459.36 L428.45 1459.41 L431.45 1459.48 L434.46 1459.56 L437.46 1459.64 L440.46 1459.73 L443.47 1459.83 L446.47 1459.94 L449.48 1460.06 L452.48 1460.18 L455.48 1460.32 L458.49 1460.46 L461.49 1460.61 L464.5 1460.77 L467.5 1460.94 L470.5 1461.11 L473.51 1461.3 L476.51 1461.5 L479.52 1461.7 L482.52 1461.92 L485.53 1462.14 L488.53 1462.38 L491.53 1462.62 L494.54 1462.88 L497.54 1463.14 L500.55 1463.42 L503.55 1463.71 L506.55 1464 L509.56 1464.31 L512.56 1464.63 L515.57 1464.96 L518.57 1465.3 L521.57 1465.66 L524.58 1466.02 L527.58 1466.4 L530.59 1466.79 L533.59 1467.19 L536.6 1467.6 L539.6 1468.03 L542.6 1468.47 L545.61 1468.93 L548.61 1469.39 L551.62 1469.87 L554.62 1470.37 L557.62 1470.87 L560.63 1471.4 L563.63 1471.93 L566.64 1472.48 L569.64 1473.05 L572.64 1473.63 L575.65 1474.23 L578.65 1474.84 L581.66 1475.46 L584.66 1476.11 L587.66 1476.77 L590.67 1477.44 L593.67 1478.13 L596.68 1478.84 L599.68 1479.56 L602.68 1480.31 L605.69 1481.06 L608.69 1481.84 L611.7 1482.64 L614.7 1483.45 L617.71 1484.28 L620.71 1485.13 L623.71 1485.99 L626.72 1486.88 L629.72 1487.78 L632.73 1488.71 L635.73 1489.65 L638.73 1490.61 L641.74 1491.6 L644.74 1492.6 L647.75 1493.62 L650.75 1494.66 L653.75 1495.73 L656.76 1496.81 L659.76 1497.91 L662.77 1499.04 L665.77 1500.19 L668.78 1501.35 L671.78 1502.54 L674.78 1503.76 L677.79 1504.99 L680.79 1506.25 L683.8 1507.52 L686.8 1508.82 L689.8 1510.15 L692.81 1511.49 L695.81 1512.86 L698.82 1514.25 L701.82 1515.67 L704.82 1517.1 L707.83 1518.57 L710.83 1520.05 L713.84 1521.56 L716.84 1523.09 L719.84 1524.65 L722.85 1526.23 L725.85 1527.83 L728.86 1529.46 L731.86 1531.12 L734.87 1532.79 L737.87 1534.5 L740.87 1536.22 L743.88 1537.97 L746.88 1539.75 L749.89 1541.55 L752.89 1543.38 L755.89 1545.23 L758.9 1547.1 L761.9 1549.01 L764.91 1550.93 L767.91 1552.88 L770.91 1554.86 L773.92 1556.86 L776.92 1558.89 L779.93 1560.94 L782.93 1563.02 L785.93 1565.12 L788.94 1567.25 L791.94 1569.4 L794.95 1571.58 L797.95 1573.78 L800.96 1576.01 L803.96 1578.26" fill="none" stroke="#0000ff" stroke-width="3.85" stroke-linecap="round" stroke-linejoin="round"/>
<rect x="173.1" y="1189.1" width="660.9" height="487.7" fill="none" stroke="#000" stroke-width="1.88" stroke-linejoin="round"/>
<path d="M203.14 1676.8v10.86M353.35 1676.8v10.86M503.55 1676.8v10.86M653.75 1676.8v10.86M803.96 1676.8v10.86M278.24 1676.8v6.12M428.45 1676.8v6.12M578.65 1676.8v6.12M728.86 1676.8v6.12M173.1 1676.8h-10.86M173.1 1554.88h-10.86M173.1 1432.95h-10.86M173.1 1311.02h-10.86M173.1 1189.1h-10.86M173.1 1615.84h-6.12M173.1 1493.91h-6.12M173.1 1371.99h-6.12M173.1 1250.06h-6.12" fill="none" stroke="#000" stroke-width="1.88"/>
<text x="202.65" y="1708.9" font-size="19.55" text-anchor="middle" stroke-width="0.3">2020</text>
<text x="352.85" y="1708.9" font-size="19.55" text-anchor="middle" stroke-width="0.3">2030</text>
<text x="503.06" y="1708.9" font-size="19.55" text-anchor="middle" stroke-width="0.3">2040</text>
<text x="653.26" y="1708.9" font-size="19.55" text-anchor="middle" stroke-width="0.3">2050</text>
<text x="803.47" y="1708.9" font-size="19.55" text-anchor="middle" stroke-width="0.3">2060</text>
<text x="155.82" y="1682.03" font-size="19.55" text-anchor="end" stroke-width="0.3">1300</text>
<text x="155.82" y="1560.11" font-size="19.55" text-anchor="end" stroke-width="0.3">1350</text>
<text x="155.82" y="1438.18" font-size="19.55" text-anchor="end" stroke-width="0.3">1400</text>
<text x="155.82" y="1316.26" font-size="19.55" text-anchor="end" stroke-width="0.3">1450</text>
<text x="155.82" y="1194.33" font-size="19.55" text-anchor="end" stroke-width="0.3">1500</text>
<text transform="translate(509.87 1748.4) scale(1.03 1)" font-size="24.2" text-anchor="middle" stroke-width="0.3">Year</text>
<text transform="translate(75.4 1451.3) scale(1.04 1) rotate(-90)" font-size="24.12" text-anchor="middle" stroke-width="0.3" xml:space="preserve">The cultivated land area(10<tspan font-size="14.83" dy="-12.54">3</tspan><tspan dy="12.54">ha)</tspan></text>
<path d="M1395 1485.69 L1397.33 1484.16 L1400.33 1482.17 L1403.33 1480.16 L1406.32 1478.13 L1409.32 1476.08 L1412.32 1474.01 L1415.31 1471.91 L1418.31 1469.8 L1421.3 1467.66 L1424.3 1465.5 L1427.3 1463.32 L1430.29 1461.11 L1433.29 1458.89 L1436.29 1456.64 L1439.28 1454.38 L1442.28 1452.09 L1445.28 1449.78 L1448.27 1447.44 L1451.27 1445.09 L1454.26 1442.71 L1457.26 1440.31 L1460.26 1437.89 L1463.25 1435.45 L1466.25 1432.99 L1469.25 1430.5 L1472.24 1427.99 L1475.24 1425.47 L1478.23 1422.91 L1481.23 1420.34 L1484.23 1417.75 L1487.22 1415.13 L1490.22 1412.49 L1493.22 1409.83 L1496.21 1407.15 L1499.21 1404.44 L1502.21 1401.72 L1505.2 1398.97 L1508.2 1396.2 L1511.19 1393.41 L1514.19 1390.6 L1517.19 1387.76 L1520.18 1384.9 L1523.18 1382.02 L1526.18 1379.12 L1529.17 1376.2 L1532.17 1373.25 L1535.16 1370.28 L1538.16 1367.3 L1541.16 1364.28 L1544.15 1361.25 L1547.15 1358.2 L1550.15 1355.12 L1553.14 1352.02 L1556.14 1348.9 L1559.14 1345.75 L1562.13 1342.59 L1565.13 1339.4 L1568.12 1336.19 L1571.12 1332.96 L1574.12 1329.71 L1577.11 1326.43 L1580.11 1323.14 L1583.11 1319.82 L1586.1 1316.48 L1589.1 1313.11 L1592.1 1309.73 L1595.09 1306.32 L1598.09 1302.89 L1601.08 1299.44 L1604.08 1295.97 L1607.08 1292.47 L1610.07 1288.95 L1613.07 1285.42 L1616.07 1281.86 L1619.06 1278.27 L1622.06 1274.67 L1625.05 1271.04 L1628.05 1267.39 L1631.05 1263.72 L1634.04 1260.03 L1637.04 1256.31 L1640.04 1252.58" fill="none" stroke="#dc0000" stroke-width="3.8" stroke-linecap="round" stroke-linejoin="round"/>
<path d="M1046.76 1628.66 L1049.76 1628.05 L1052.76 1627.43 L1055.75 1626.8 L1058.75 1626.16 L1061.75 1625.51 L1064.74 1624.86 L1067.74 1624.19 L1070.73 1623.52 L1073.73 1622.84 L1076.73 1622.15 L1079.72 1621.44 L1082.72 1620.73 L1085.72 1620.01 L1088.71 1619.29 L1091.71 1618.55 L1094.7 1617.8 L1097.7 1617.04 L1100.7 1616.27 L1103.69 1615.5 L1106.69 1614.71 L1109.69 1613.91 L1112.68 1613.11 L1115.68 1612.29 L1118.68 1611.47 L1121.67 1610.63 L1124.67 1609.78 L1127.66 1608.93 L1130.66 1608.06 L1133.66 1607.18 L1136.65 1606.3 L1139.65 1605.4 L1142.65 1604.49 L1145.64 1603.57 L1148.64 1602.65 L1151.64 1601.71 L1154.63 1600.76 L1157.63 1599.8 L1160.62 1598.82 L1163.62 1597.84 L1166.62 1596.85 L1169.61 1595.85 L1172.61 1594.83 L1175.61 1593.81 L1178.6 1592.77 L1181.6 1591.72 L1184.59 1590.66 L1187.59 1589.59 L1190.59 1588.51 L1193.58 1587.42 L1196.58 1586.31 L1199.58 1585.2 L1202.57 1584.07 L1205.57 1582.93 L1208.57 1581.78 L1211.56 1580.62 L1214.56 1579.45 L1217.55 1578.26 L1220.55 1577.07 L1223.55 1575.86 L1226.54 1574.64 L1229.54 1573.41 L1232.54 1572.16 L1235.53 1570.91 L1238.53 1569.64 L1241.52 1568.36 L1244.52 1567.07 L1247.52 1565.77 L1250.51 1564.45 L1253.51 1563.12 L1256.51 1561.78 L1259.5 1560.43 L1262.5 1559.06 L1265.5 1557.68 L1268.49 1556.29 L1271.49 1554.89 L1274.48 1553.48 L1277.48 1552.05 L1280.48 1550.61 L1283.47 1549.15 L1286.47 1547.69 L1289.47 1546.21 L1292.46 1544.72 L1295.46 1543.21 L1298.46 1541.7 L1301.45 1540.17 L1304.45 1538.62 L1307.44 1537.07 L1310.44 1535.5 L1313.44 1533.92 L1316.43 1532.32 L1319.43 1530.71 L1322.43 1529.09 L1325.42 1527.46 L1328.42 1525.81 L1331.41 1524.15 L1334.41 1522.47 L1337.41 1520.78 L1340.4 1519.08 L1343.4 1517.37 L1346.4 1515.64 L1349.39 1513.9 L1352.39 1512.14 L1355.39 1510.37 L1358.38 1508.59 L1361.38 1506.79 L1364.37 1504.98 L1367.37 1503.16 L1370.37 1501.32 L1373.36 1499.47 L1376.36 1497.61 L1379.36 1495.73 L1382.35 1493.83 L1385.35 1491.93 L1388.34 1490.01 L1391.34 1488.07 L1394.34 1486.12 L1397.33 1484.16 L1400.33 1482.18 L1403.33 1480.19 L1406.32 1478.18 L1409.32 1476.16 L1412.32 1474.13 L1415.31 1472.08 L1418.31 1470.02 L1421.3 1467.94 L1424.3 1465.85 L1427.3 1463.75 L1430.29 1461.63 L1433.29 1459.49 L1436.29 1457.34 L1439.28 1455.18 L1442.28 1453 L1445.28 1450.81 L1448.27 1448.6 L1451.27 1446.38 L1454.26 1444.14 L1457.26 1441.89 L1460.26 1439.63 L1463.25 1437.35 L1466.25 1435.05 L1469.25 1432.74 L1472.24 1430.42 L1475.24 1428.08 L1478.23 1425.72 L1481.23 1423.35 L1484.23 1420.97 L1487.22 1418.57 L1490.22 1416.16 L1493.22 1413.73 L1496.21 1411.29 L1499.21 1408.83 L1502.21 1406.35 L1505.2 1403.86 L1508.2 1401.36 L1511.19 1398.84 L1514.19 1396.31 L1517.19 1393.76 L1520.18 1391.19 L1523.18 1388.61 L1526.18 1386.02 L1529.17 1383.41 L1532.17 1380.78 L1535.16 1378.14 L1538.16 1375.49 L1541.16 1372.81 L1544.15 1370.13 L1547.15 1367.43 L1550.15 1364.71 L1553.14 1361.98 L1556.14 1359.23 L1559.14 1356.46 L1562.13 1353.68 L1565.13 1350.89 L1568.12 1348.08 L1571.12 1345.25 L1574.12 1342.41 L1577.11 1339.56 L1580.11 1336.69 L1583.11 1333.8 L1586.1 1330.89 L1589.1 1327.98 L1592.1 1325.04 L1595.09 1322.09 L1598.09 1319.13 L1601.08 1316.14 L1604.08 1313.15 L1607.08 1310.14 L1610.07 1307.11 L1613.07 1304.06 L1616.07 1301 L1619.06 1297.93 L1622.06 1294.84 L1625.05 1291.73 L1628.05 1288.61 L1631.05 1285.47 L1634.04 1282.32 L1637.04 1279.15 L1640.04 1275.96" fill="none" stroke="#0000ff" stroke-width="3.8" stroke-linecap="round" stroke-linejoin="round"/>
<rect x="1017.1" y="1191.4" width="652.6" height="482" fill="none" stroke="#000" stroke-width="1.85" stroke-linejoin="round"/>
<path d="M1046.76 1673.4v10.73M1195.08 1673.4v10.73M1343.4 1673.4v10.73M1491.72 1673.4v10.73M1640.04 1673.4v10.73M1120.92 1673.4v6.05M1269.24 1673.4v6.05M1417.56 1673.4v6.05M1565.88 1673.4v6.05M1017.1 1673.4h-10.73M1017.1 1604.54h-10.73M1017.1 1535.69h-10.73M1017.1 1466.83h-10.73M1017.1 1397.97h-10.73M1017.1 1329.11h-10.73M1017.1 1260.26h-10.73M1017.1 1191.4h-10.73M1017.1 1638.97h-6.05M1017.1 1570.11h-6.05M1017.1 1501.26h-6.05M1017.1 1432.4h-6.05M1017.1 1363.54h-6.05M1017.1 1294.69h-6.05M1017.1 1225.83h-6.05" fill="none" stroke="#000" stroke-width="1.85"/>
<text x="1046.28" y="1705.09" font-size="19.31" text-anchor="middle" stroke-width="0.3">2020</text>
<text x="1194.59" y="1705.09" font-size="19.31" text-anchor="middle" stroke-width="0.3">2030</text>
<text x="1342.91" y="1705.09" font-size="19.31" text-anchor="middle" stroke-width="0.3">2040</text>
<text x="1491.23" y="1705.09" font-size="19.31" text-anchor="middle" stroke-width="0.3">2050</text>
<text x="1639.55" y="1705.09" font-size="19.31" text-anchor="middle" stroke-width="0.3">2060</text>
<text x="1000.03" y="1678.57" font-size="19.31" text-anchor="end" stroke-width="0.3">80</text>
<text x="1000.03" y="1609.71" font-size="19.31" text-anchor="end" stroke-width="0.3">90</text>
<text x="1000.03" y="1540.85" font-size="19.31" text-anchor="end" stroke-width="0.3">100</text>
<text x="1000.03" y="1472" font-size="19.31" text-anchor="end" stroke-width="0.3">110</text>
<text x="1000.03" y="1403.14" font-size="19.31" text-anchor="end" stroke-width="0.3">120</text>
<text x="1000.03" y="1334.28" font-size="19.31" text-anchor="end" stroke-width="0.3">130</text>
<text x="1000.03" y="1265.43" font-size="19.31" text-anchor="end" stroke-width="0.3">140</text>
<text x="1000.03" y="1196.57" font-size="19.31" text-anchor="end" stroke-width="0.3">150</text>
<text transform="translate(1349.64 1744.1) scale(1.03 1)" font-size="23.89" text-anchor="middle" stroke-width="0.3">Year</text>
<text transform="translate(931.3 1451.4) scale(1.04 1) rotate(-90)" font-size="23.75" text-anchor="middle" stroke-width="0.3" xml:space="preserve">Urban green area(10<tspan font-size="14.61" dy="-12.38">3</tspan><tspan dy="12.38">ha)</tspan></text>
<path d="M197.81 2011.21 L200.82 2011.48 L203.84 2011.75 L206.85 2012.02 L209.86 2012.29 L212.88 2012.57 L215.89 2012.84 L218.91 2013.12 L221.92 2013.4 L224.93 2013.68 L227.95 2013.96 L230.96 2014.25 L233.98 2014.53 L236.99 2014.82 L240 2015.11 L243.02 2015.41 L246.03 2015.7 L249.05 2016 L252.06 2016.3 L255.07 2016.6 L258.09 2016.9 L261.1 2017.21 L264.12 2017.52 L267.13 2017.83 L270.14 2018.15 L273.16 2018.47 L276.17 2018.79 L279.19 2019.11 L282.2 2019.44 L285.21 2019.77 L288.23 2020.11 L291.24 2020.44 L294.26 2020.78 L297.27 2021.13 L300.28 2021.48 L303.3 2021.83 L306.31 2022.19 L309.32 2022.55 L312.34 2022.91 L315.35 2023.28 L318.37 2023.65 L321.38 2024.03 L324.39 2024.41 L327.41 2024.79 L330.42 2025.18 L333.44 2025.58 L336.45 2025.97 L339.46 2026.38 L342.48 2026.79 L345.49 2027.2 L348.51 2027.62 L351.52 2028.04 L354.53 2028.47 L357.55 2028.9 L360.56 2029.34 L363.58 2029.78 L366.59 2030.23 L369.6 2030.68 L372.62 2031.14 L375.63 2031.61 L378.65 2032.08 L381.66 2032.56 L384.67 2033.04 L387.69 2033.53 L390.7 2034.03 L393.72 2034.53 L396.73 2035.03 L399.74 2035.55 L402.76 2036.07 L405.77 2036.59 L408.78 2037.13 L411.8 2037.67 L414.81 2038.21 L417.83 2038.76 L420.84 2039.32 L423.85 2039.89 L426.87 2040.46 L429.88 2041.04 L432.9 2041.63 L435.91 2042.22 L438.92 2042.82 L441.94 2043.43 L444.95 2044.04 L447.97 2044.65 L450.98 2045.28 L453.99 2045.91 L457.01 2046.54 L460.02 2047.18 L463.04 2047.83 L466.05 2048.48 L469.06 2049.13 L472.08 2049.79 L475.09 2050.46 L478.11 2051.13 L481.12 2051.8 L484.13 2052.48 L487.15 2053.17 L490.16 2053.85 L493.18 2054.55 L496.19 2055.24 L499.2 2055.95 L502.22 2056.65 L505.23 2057.36 L508.24 2058.07 L511.26 2058.79 L514.27 2059.51 L517.29 2060.23 L520.3 2060.96 L523.31 2061.68 L526.33 2062.42 L529.34 2063.15 L532.36 2063.89 L535.37 2064.63 L538.38 2065.37 L541.4 2066.12 L544.41 2066.87 L547.43 2067.62 L550.44 2068.37 L553.45 2069.12 L556.47 2069.87 L559.48 2070.63 L562.5 2071.39 L565.51 2072.14 L568.52 2072.9 L571.54 2073.65 L574.55 2074.41 L577.57 2075.16 L580.58 2075.92 L583.59 2076.67 L586.61 2077.42 L589.62 2078.17 L592.64 2078.92 L595.65 2079.66 L598.66 2080.4 L601.68 2081.14 L604.69 2081.87 L607.7 2082.61 L610.72 2083.33 L613.73 2084.06 L616.75 2084.77 L619.76 2085.49 L622.77 2086.2 L625.79 2086.9 L628.8 2087.6 L631.82 2088.29 L634.83 2088.98 L637.84 2089.65 L640.86 2090.33 L643.87 2090.99 L646.89 2091.65 L649.9 2092.3 L652.94 2093.45 L655.98 2094.59 L659.03 2095.74 L662.07 2096.89 L665.11 2098.04 L668.15 2099.18 L671.19 2100.33 L674.23 2101.48 L677.28 2102.63 L680.32 2103.77 L683.36 2104.92 L686.4 2106.07 L689.44 2107.21 L692.49 2108.36 L695.53 2109.51 L698.57 2110.66 L701.61 2111.8 L704.65 2112.95 L707.69 2114.1 L710.74 2115.25 L713.78 2116.39 L716.82 2117.54 L719.86 2118.69 L722.9 2119.83 L725.95 2120.98 L728.99 2122.13 L732.03 2123.28 L735.07 2124.42 L738.11 2125.57 L741.15 2126.72 L744.2 2127.87 L747.24 2129.01 L750.28 2130.16 L753.32 2131.31 L756.36 2132.45 L759.41 2133.6 L762.45 2134.75 L765.49 2135.9 L768.53 2137.04 L771.57 2138.19 L774.61 2139.34 L777.66 2140.48 L780.7 2141.63 L783.74 2142.78 L786.78 2143.93 L789.82 2145.07 L792.87 2146.22 L795.91 2147.37 L798.95 2148.52 L801.99 2149.66" fill="none" stroke="#c0c0c0" stroke-width="3.87" stroke-linecap="round" stroke-linejoin="round"/>
<path d="M197.81 2049.7 L200.82 2049.96 L203.84 2050.22 L206.85 2050.48 L209.86 2050.74 L212.88 2051.01 L215.89 2051.28 L218.91 2051.55 L221.92 2051.83 L224.93 2052.1 L227.95 2052.38 L230.96 2052.66 L233.98 2052.95 L236.99 2053.24 L240 2053.53 L243.02 2053.82 L246.03 2054.12 L249.05 2054.42 L252.06 2054.72 L255.07 2055.02 L258.09 2055.33 L261.1 2055.64 L264.12 2055.96 L267.13 2056.27 L270.14 2056.6 L273.16 2056.92 L276.17 2057.25 L279.19 2057.58 L282.2 2057.92 L285.21 2058.25 L288.23 2058.6 L291.24 2058.94 L294.26 2059.29 L297.27 2059.65 L300.28 2060 L303.3 2060.37 L306.31 2060.73 L309.32 2061.1 L312.34 2061.47 L315.35 2061.85 L318.37 2062.23 L321.38 2062.62 L324.39 2063.01 L327.41 2063.41 L330.42 2063.81 L333.44 2064.21 L336.45 2064.62 L339.46 2065.03 L342.48 2065.45 L345.49 2065.87 L348.51 2066.3 L351.52 2066.73 L354.53 2067.17 L357.55 2067.61 L360.56 2068.05 L363.58 2068.51 L366.59 2068.96 L369.6 2069.42 L372.62 2069.89 L375.63 2070.36 L378.65 2070.84 L381.66 2071.32 L384.67 2071.81 L387.69 2072.31 L390.7 2072.8 L393.72 2073.31 L396.73 2073.82 L399.74 2074.34 L402.76 2074.86 L405.77 2075.38 L408.78 2075.92 L411.8 2076.46 L414.81 2077 L417.83 2077.55 L420.84 2078.11 L423.85 2078.67 L426.87 2079.24 L429.88 2079.82 L432.9 2080.4 L435.91 2080.99 L438.92 2081.58 L441.94 2082.18 L444.95 2082.78 L447.97 2083.39 L450.98 2084 L453.99 2084.62 L457.01 2085.25 L460.02 2085.88 L463.04 2086.51 L466.05 2087.15 L469.06 2087.8 L472.08 2088.45 L475.09 2089.11 L478.11 2089.77 L481.12 2090.43 L484.13 2091.1 L487.15 2091.77 L490.16 2092.45 L493.18 2093.14 L496.19 2093.82 L499.2 2094.52 L502.22 2095.21 L505.23 2095.91 L508.24 2096.62 L511.26 2097.32 L514.27 2098.04 L517.29 2098.75 L520.3 2099.47 L523.31 2100.2 L526.33 2100.92 L529.34 2101.65 L532.36 2102.39 L535.37 2103.13 L538.38 2103.87 L541.4 2104.61 L544.41 2105.36 L547.43 2106.11 L550.44 2106.86 L553.45 2107.62 L556.47 2108.38 L559.48 2109.14 L562.5 2109.89 L565.51 2110.66 L568.52 2111.42 L571.54 2112.18 L574.55 2112.94 L577.57 2113.7 L580.58 2114.46 L583.59 2115.21 L586.61 2115.97 L589.62 2116.72 L592.64 2117.48 L595.65 2118.22 L598.66 2118.97 L601.68 2119.71 L604.69 2120.45 L607.7 2121.18 L610.72 2121.91 L613.73 2122.63 L616.75 2123.35 L619.76 2124.07 L622.77 2124.77 L625.79 2125.47 L628.8 2126.17 L631.82 2126.85 L634.83 2127.53 L637.84 2128.2 L640.86 2128.86 L643.87 2129.52 L646.89 2130.16 L649.9 2130.8 L652.94 2131.95 L655.98 2133.1 L659.03 2134.25 L662.07 2135.4 L665.11 2136.54 L668.15 2137.69 L671.19 2138.84 L674.23 2139.99 L677.28 2141.14 L680.32 2142.29 L683.36 2143.44 L686.4 2144.59 L689.44 2145.73 L692.49 2146.88 L695.53 2148.03 L698.57 2149.18 L701.61 2150.33 L704.65 2151.48 L707.69 2152.63 L710.74 2153.78 L713.78 2154.93 L716.82 2156.07 L719.86 2157.22 L722.9 2158.37 L725.95 2159.52 L728.99 2160.67 L732.03 2161.82 L735.07 2162.97 L738.11 2164.12 L741.15 2165.26 L744.2 2166.41 L747.24 2167.56 L750.28 2168.71 L753.32 2169.86 L756.36 2171.01 L759.41 2172.16 L762.45 2173.31 L765.49 2174.46 L768.53 2175.6 L771.57 2176.75 L774.61 2177.9 L777.66 2179.05 L780.7 2180.2 L783.74 2181.35 L786.78 2182.5 L789.82 2183.65 L792.87 2184.79 L795.91 2185.94 L798.95 2187.09 L801.99 2188.24" fill="none" stroke="#dc0000" stroke-width="3.87" stroke-linecap="round" stroke-linejoin="round"/>
<path d="M197.81 2140.61 L200.82 2140.9 L203.84 2141.19 L206.85 2141.48 L209.86 2141.77 L212.88 2142.07 L215.89 2142.37 L218.91 2142.67 L221.92 2142.97 L224.93 2143.28 L227.95 2143.58 L230.96 2143.89 L233.98 2144.2 L236.99 2144.51 L240 2144.83 L243.02 2145.15 L246.03 2145.47 L249.05 2145.79 L252.06 2146.12 L255.07 2146.44 L258.09 2146.77 L261.1 2147.11 L264.12 2147.44 L267.13 2147.78 L270.14 2148.12 L273.16 2148.47 L276.17 2148.81 L279.19 2149.16 L282.2 2149.52 L285.21 2149.87 L288.23 2150.23 L291.24 2150.59 L294.26 2150.96 L297.27 2151.33 L300.28 2151.7 L303.3 2152.07 L306.31 2152.45 L309.32 2152.83 L312.34 2153.22 L315.35 2153.61 L318.37 2154 L321.38 2154.39 L324.39 2154.79 L327.41 2155.2 L330.42 2155.6 L333.44 2156.01 L336.45 2156.43 L339.46 2156.85 L342.48 2157.27 L345.49 2157.69 L348.51 2158.12 L351.52 2158.56 L354.53 2159 L357.55 2159.44 L360.56 2159.89 L363.58 2160.34 L366.59 2160.79 L369.6 2161.25 L372.62 2161.72 L375.63 2162.19 L378.65 2162.66 L381.66 2163.14 L384.67 2163.62 L387.69 2164.11 L390.7 2164.6 L393.72 2165.09 L396.73 2165.59 L399.74 2166.1 L402.76 2166.61 L405.77 2167.13 L408.78 2167.65 L411.8 2168.17 L414.81 2168.7 L417.83 2169.24 L420.84 2169.78 L423.85 2170.33 L426.87 2170.88 L429.88 2171.43 L432.9 2172 L435.91 2172.56 L438.92 2173.13 L441.94 2173.71 L444.95 2174.29 L447.97 2174.88 L450.98 2175.47 L453.99 2176.06 L457.01 2176.66 L460.02 2177.26 L463.04 2177.87 L466.05 2178.49 L469.06 2179.1 L472.08 2179.73 L475.09 2180.35 L478.11 2180.98 L481.12 2181.62 L484.13 2182.26 L487.15 2182.9 L490.16 2183.55 L493.18 2184.2 L496.19 2184.85 L499.2 2185.51 L502.22 2186.17 L505.23 2186.84 L508.24 2187.51 L511.26 2188.18 L514.27 2188.86 L517.29 2189.54 L520.3 2190.22 L523.31 2190.91 L526.33 2191.6 L529.34 2192.3 L532.36 2192.99 L535.37 2193.69 L538.38 2194.4 L541.4 2195.1 L544.41 2195.81 L547.43 2196.53 L550.44 2197.24 L553.45 2197.96 L556.47 2198.67 L559.48 2199.38 L562.5 2200.09 L565.51 2200.8 L568.52 2201.51 L571.54 2202.21 L574.55 2202.9 L577.57 2203.59 L580.58 2204.27 L583.59 2204.94 L586.61 2205.61 L589.62 2206.26 L592.64 2206.9 L595.65 2207.54 L598.66 2208.16 L601.68 2208.76 L604.69 2209.36 L607.7 2209.94 L610.72 2210.5 L613.73 2211.04 L616.75 2211.57 L619.76 2212.08 L622.77 2212.58 L625.79 2213.05 L628.8 2213.5 L631.82 2213.93 L634.83 2214.33 L637.84 2214.72 L640.86 2215.08 L643.87 2215.41 L646.89 2215.72 L649.9 2216 L652.94 2216.79 L655.98 2217.56 L659.03 2218.32 L662.07 2219.07 L665.11 2219.8 L668.15 2220.51 L671.19 2221.21 L674.23 2221.9 L677.28 2222.57 L680.32 2223.23 L683.36 2223.88 L686.4 2224.51 L689.44 2225.12 L692.49 2225.72 L695.53 2226.31 L698.57 2226.88 L701.61 2227.44 L704.65 2227.98 L707.69 2228.51 L710.74 2229.03 L713.78 2229.53 L716.82 2230.01 L719.86 2230.49 L722.9 2230.94 L725.95 2231.39 L728.99 2231.81 L732.03 2232.23 L735.07 2232.63 L738.11 2233.01 L741.15 2233.38 L744.2 2233.74 L747.24 2234.08 L750.28 2234.41 L753.32 2234.72 L756.36 2235.02 L759.41 2235.31 L762.45 2235.58 L765.49 2235.84 L768.53 2236.08 L771.57 2236.3 L774.61 2236.52 L777.66 2236.72 L780.7 2236.9 L783.74 2237.07 L786.78 2237.23 L789.82 2237.37 L792.87 2237.49 L795.91 2237.61 L798.95 2237.7 L801.99 2237.79" fill="none" stroke="#0000ff" stroke-width="3.87" stroke-linecap="round" stroke-linejoin="round"/>
<rect x="167.6" y="1762.3" width="664.6" height="490.1" fill="none" stroke="#000" stroke-width="1.89" stroke-linejoin="round"/>
<path d="M197.81 2252.4v10.92M348.85 2252.4v10.92M499.9 2252.4v10.92M650.95 2252.4v10.92M801.99 2252.4v10.92M273.33 2252.4v6.16M424.38 2252.4v6.16M575.42 2252.4v6.16M726.47 2252.4v6.16M167.6 2252.4h-10.92M167.6 2194.74h-10.92M167.6 2137.08h-10.92M167.6 2079.42h-10.92M167.6 2021.76h-10.92M167.6 1964.11h-10.92M167.6 1906.45h-10.92M167.6 1848.79h-10.92M167.6 1791.13h-10.92M167.6 2223.57h-6.16M167.6 2165.91h-6.16M167.6 2108.25h-6.16M167.6 2050.59h-6.16M167.6 1992.94h-6.16M167.6 1935.28h-6.16M167.6 1877.62h-6.16M167.6 1819.96h-6.16M167.6 1762.3h-6.16" fill="none" stroke="#000" stroke-width="1.89"/>
<text x="197.31" y="2284.68" font-size="19.66" text-anchor="middle" stroke-width="0.3">2020</text>
<text x="348.36" y="2284.68" font-size="19.66" text-anchor="middle" stroke-width="0.3">2030</text>
<text x="499.4" y="2284.68" font-size="19.66" text-anchor="middle" stroke-width="0.3">2040</text>
<text x="650.45" y="2284.68" font-size="19.66" text-anchor="middle" stroke-width="0.3">2050</text>
<text x="801.49" y="2284.68" font-size="19.66" text-anchor="middle" stroke-width="0.3">2060</text>
<text x="150.22" y="2257.66" font-size="19.66" text-anchor="end" stroke-width="0.3">-2</text>
<text x="150.22" y="2200" font-size="19.66" text-anchor="end" stroke-width="0.3">0</text>
<text x="150.22" y="2142.35" font-size="19.66" text-anchor="end" stroke-width="0.3">2</text>
<text x="150.22" y="2084.69" font-size="19.66" text-anchor="end" stroke-width="0.3">4</text>
<text x="150.22" y="2027.03" font-size="19.66" text-anchor="end" stroke-width="0.3">6</text>
<text x="150.22" y="1969.37" font-size="19.66" text-anchor="end" stroke-width="0.3">8</text>
<text x="150.22" y="1911.71" font-size="19.66" text-anchor="end" stroke-width="0.3">10</text>
<text x="150.22" y="1854.05" font-size="19.66" text-anchor="end" stroke-width="0.3">12</text>
<text x="150.22" y="1796.39" font-size="19.66" text-anchor="end" stroke-width="0.3">14</text>
<text transform="translate(502.88 2324.4) scale(1.03 1)" font-size="24.33" text-anchor="middle" stroke-width="0.3">Year</text>
<text transform="translate(90.9 2026.3) scale(1.04 1) rotate(-90)" font-size="24.13" text-anchor="middle" stroke-width="0.3" xml:space="preserve">Water balance(10<tspan font-size="14.84" dy="-12.61">9</tspan><tspan dy="12.61">m</tspan><tspan font-size="14.84" dy="-12.61">3</tspan><tspan dy="12.61">)</tspan></text>
<path d="M974.4 1971.8H1057.6" stroke="#c0c0c0" stroke-width="5.6" stroke-linecap="round" fill="none"/>
<path d="M974.4 2017.7H1057.6" stroke="#dc0000" stroke-width="5.6" stroke-linecap="round" fill="none"/>
<path d="M974.4 2063.5H1057.6" stroke="#0000ff" stroke-width="5.6" stroke-linecap="round" fill="none"/>
<text x="1078.2" y="1984.1" font-size="35.9" stroke-width="0.45" textLength="345.1" lengthAdjust="spacingAndGlyphs">Basic ecological flow</text>
<text x="1078.2" y="2030.5" font-size="35.9" stroke-width="0.45" textLength="557.6" lengthAdjust="spacingAndGlyphs">Instream flow for dilution pollution</text>
<text x="1078.2" y="2076.7" font-size="35.9" stroke-width="0.45" textLength="597.6" lengthAdjust="spacingAndGlyphs">Instream flow for transport sediment</text>
</svg>
</body>
</html>
